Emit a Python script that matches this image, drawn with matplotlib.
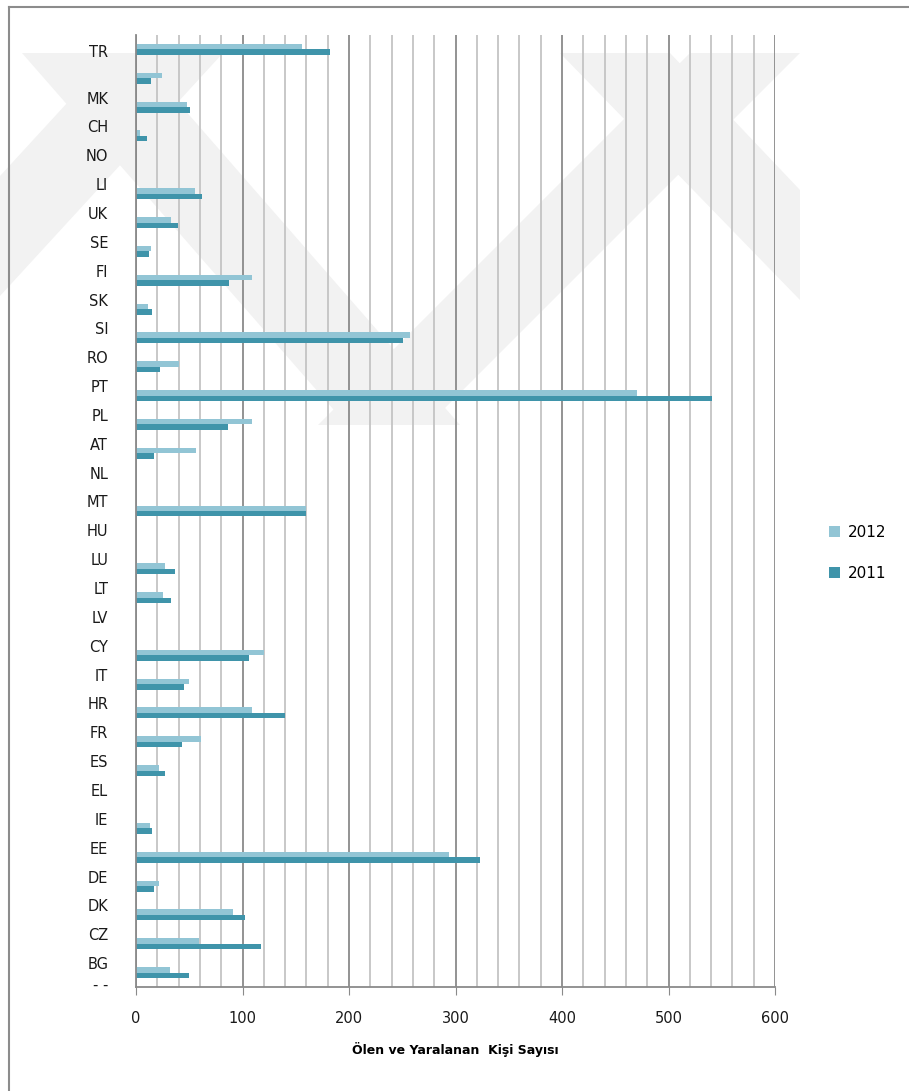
import matplotlib
matplotlib.use("Agg")
import matplotlib.pyplot as plt
import numpy as np
from matplotlib.patches import Polygon
from matplotlib.lines import Line2D
from matplotlib.ticker import MultipleLocator

# Ülkeler (yukarıdan aşağıya) ve yıllara göre ölen/yaralanan kişi sayıları
countries = ["TR", "", "MK", "CH", "NO", "LI", "UK", "SE", "FI", "SK", "SI",
             "RO", "PT", "PL", "AT", "NL", "MT", "HU", "LU", "LT", "LV", "CY",
             "IT", "HR", "FR", "ES", "EL", "IE", "EE", "DE", "DK", "CZ", "BG"]
v2012 = [156, 24, 48, 4, 0, 55, 33, 14, 109, 11, 257,
         40, 470, 109, 56, 0, 160, 0, 27, 25, 0, 120,
         50, 109, 61, 22, 0, 13, 294, 22, 91, 59, 32]
v2011 = [182, 14, 51, 10, 0, 62, 39, 12, 87, 15, 251,
         23, 541, 86, 17, 0, 160, 0, 37, 33, 0, 106,
         45, 140, 43, 27, 0, 15, 323, 17, 102, 117, 50]
extra_label = "- -"

C2012 = "#92c5d5"
C2011 = "#3f94aa"

W, H = 909, 1091
fig = plt.figure(figsize=(W / 100, H / 100), dpi=100)
fig.patch.set_facecolor("white")


def px(x, y):
    return (x / W, 1 - y / H)


# arka plandaki soluk filigran şeritleri
bands = [
    [(22, 53), (135, 53), (460, 425), (347, 425)],
    [(113, 53), (223, 53), (0, 296), (0, 176)],
    [(690, 53), (800, 53), (428, 425), (318, 425)],
    [(560, 53), (670, 53), (800, 190), (800, 300)],
]
for b in bands:
    fig.patches.append(Polygon([px(*p) for p in b], closed=True,
                               transform=fig.transFigure, facecolor="#f2f2f2",
                               edgecolor="none", zorder=-5))

# dış çerçeve
fig.lines.append(Line2D([9 / W, 9 / W], [0, 1 - 7 / H], transform=fig.transFigure,
                        color="#8c8c8c", lw=1.5))
fig.lines.append(Line2D([9 / W, 1], [1 - 7 / H, 1 - 7 / H], transform=fig.transFigure,
                        color="#8c8c8c", lw=1.5))

ax = fig.add_axes([136 / W, 1 - 987 / H, (775 - 136) / W, (987 - 35) / H])
ax.set_facecolor("none")

n = len(countries)
y = np.arange(n)
h = 0.19
b12 = ax.barh(y - h / 2, v2012, height=h, color=C2012, zorder=3, label="2012")
b11 = ax.barh(y + h / 2, v2011, height=h, color=C2011, zorder=3, label="2011")

ax.set_xlim(0, 600)
ax.set_ylim(n - 0.5, -0.5)

ax.xaxis.set_major_locator(MultipleLocator(100))
ax.xaxis.set_minor_locator(MultipleLocator(20))
ax.grid(axis="x", which="minor", color="#c4c4c4", lw=1.3, zorder=1)
ax.grid(axis="x", which="major", color="#8a8a8a", lw=1.3, zorder=1)

# etiketler çubukların biraz üstünde duruyor
tick_pos = list(y - 0.33)
tick_pos[0] = 0.06
tick_lab = list(countries)
tick_pos.append(n - 0.6)
tick_lab.append(extra_label)
ax.set_yticks(tick_pos)
ax.set_yticklabels(tick_lab, fontsize=10.5, color="#1a1a1a")
ax.tick_params(axis="y", length=0, pad=20)
ax.tick_params(axis="x", which="major", length=6, color="#8a8a8a",
               pad=11, labelsize=10.5, labelcolor="#1a1a1a")
ax.tick_params(axis="x", which="minor", length=0)

for s in ["top", "right"]:
    ax.spines[s].set_visible(False)
ax.spines["left"].set_color("#8a8a8a")
ax.spines["bottom"].set_color("#8a8a8a")
ax.spines["left"].set_linewidth(1.3)
ax.spines["bottom"].set_linewidth(1.3)
ax.spines["left"].set_zorder(4)

ax.set_xlabel("Ölen ve Yaralanan  Kişi Sayısı", fontsize=9, fontweight="bold",
              labelpad=12)

fig.legend(handles=[b12, b11], labels=["2012", "2011"], loc="center left",
           bbox_to_anchor=(815 / W, 1 - 553 / H), frameon=False, fontsize=11,
           handlelength=0.75, handleheight=0.75, handletextpad=0.5,
           labelspacing=1.7)

fig.savefig("out.png", dpi=100)
